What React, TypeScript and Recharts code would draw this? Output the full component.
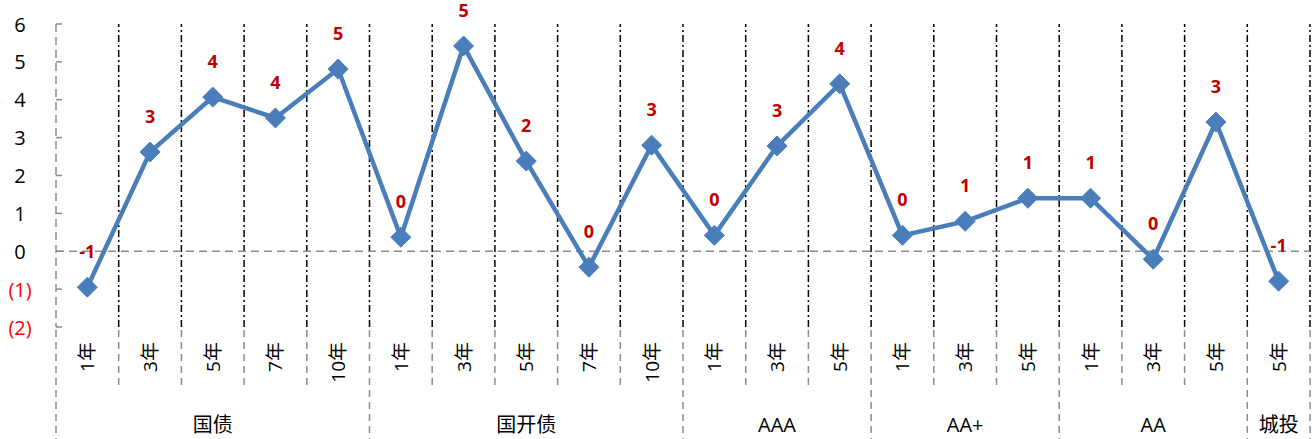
import React from 'react';
import { LineChart, Line, XAxis, YAxis, ReferenceLine, LabelList } from 'recharts';

// categories and values
const groups = ['国债', '国开债', 'AAA', 'AA+', 'AA', '城投'];
const groupSizes = [5, 5, 3, 3, 3, 1];
const terms = ['1年', '3年', '5年', '7年', '10年', '1年', '3年', '5年', '7年', '10年', '1年', '3年', '5年', '1年', '3年', '5年', '1年', '3年', '5年', '5年'];
const spreads = [-0.95, 2.62, 4.07, 3.52, 4.81, 0.37, 5.42, 2.38, -0.42, 2.8, 0.42, 2.78, 4.42, 0.42, 0.79, 1.4, 1.4, -0.21, 3.41, -0.79];
const yTicks = [-2, -1, 0, 1, 2, 3, 4, 5, 6];

const FONT = '"Open Sans", "Noto Sans CJK SC", sans-serif';
const LINE_COLOR = '#4A7EBB';
const GRAY = '#8C8C8C';

const data = terms.map((term, i) => ({ x: i + 0.5, term, value: spreads[i] }));

// group edges and centres in category units
const groupEdges: number[] = [0];
groupSizes.forEach((s) => groupEdges.push(groupEdges[groupEdges.length - 1] + s));
const groupCenters = groupSizes.map((s, i) => groupEdges[i] + s / 2);

const xTicks: number[] = [];
for (let k = 0; k <= terms.length * 2; k++) xTicks.push(k / 2);
const innerEdges = xTicks.filter((v) => Number.isInteger(v) && v > 0);

const fmtLabel = (v: number) => {
    const r = Math.round(v);
    return r === 0 ? '0' : String(r);
};

const XTick = (props: any) => {
    const { x, y, payload } = props;
    const v = payload.value as number;
    if (Number.isInteger(v)) {
        const isGroup = groupEdges.includes(v);
        return (
            <line x1={x} x2={x} y1={y + 3} y2={isGroup ? y + 112 : y + 63}
                stroke={GRAY} strokeWidth={1.5} strokeDasharray="7 5" />
        );
    }
    const gi = groupCenters.indexOf(v);
    return (
        <g>
            <text transform={`translate(${x},${y + 15}) rotate(-90)`} textAnchor="end"
                dominantBaseline="central" fontSize={19} fontFamily={FONT} fill="#000">
                {terms[Math.floor(v)]}
            </text>
            {gi >= 0 && (
                <text x={x} y={y + 97} textAnchor="middle" dominantBaseline="central"
                    fontSize={20} fontFamily={FONT} fill="#000">
                    {groups[gi]}
                </text>
            )}
        </g>
    );
};

const YTick = (props: any) => {
    const { x, y, payload } = props;
    const v = payload.value as number;
    return (
        <g>
            <text x={x - 36} y={y} textAnchor="middle" dominantBaseline="central"
                fontSize={20} fontFamily={FONT} fill={v < 0 ? '#FF0000' : '#000'}>
                {v < 0 ? `(${-v})` : v}
            </text>
            <line x1={x} x2={x + 6} y1={y} y2={y} stroke={GRAY} strokeWidth={1.5} />
        </g>
    );
};

const Diamond = (props: any) => {
    const { cx, cy } = props;
    if (cx == null || cy == null) return null;
    const r = 10;
    return (
        <polygon points={`${cx},${cy - r} ${cx + r},${cy} ${cx},${cy + r} ${cx - r},${cy}`}
            fill={LINE_COLOR} stroke={LINE_COLOR} />
    );
};

export default function App() {
    return (
        <div style={{ position: 'absolute', left: 0, top: 0, background: '#fff' }}>
            <LineChart width={1316} height={439} data={data}
                margin={{ top: 24, right: 6, left: 0, bottom: 0 }}>
                <XAxis dataKey="x" type="number" domain={[0, terms.length]} ticks={xTicks}
                    interval={0} height={112} axisLine={false} tickLine={false}
                    tickSize={0} tickMargin={0} tick={<XTick />} />
                <YAxis type="number" domain={[-2, 6]} ticks={yTicks} interval={0} width={56}
                    tickLine={false} tickSize={0} tickMargin={0} tick={<YTick />}
                    axisLine={{ stroke: GRAY, strokeWidth: 1.5, strokeDasharray: '8 5' }} />
                {innerEdges.map((k) => (
                    <ReferenceLine key={`edge-${k}`} x={k} stroke="#000" strokeWidth={1.5}
                        strokeDasharray="7 3 2 3" />
                ))}
                <ReferenceLine y={0} stroke={GRAY} strokeWidth={1.5} strokeDasharray="8 5" />
                <Line type="linear" dataKey="value" stroke={LINE_COLOR} strokeWidth={4.5}
                    dot={<Diamond />} activeDot={false} isAnimationActive={false}>
                    <LabelList dataKey="value" position="top" offset={29}
                        formatter={(v: any) => fmtLabel(Number(v))}
                        fill="#C00000" fontSize={18} fontWeight="bold" fontFamily={FONT} />
                </Line>
            </LineChart>
        </div>
    );
}
